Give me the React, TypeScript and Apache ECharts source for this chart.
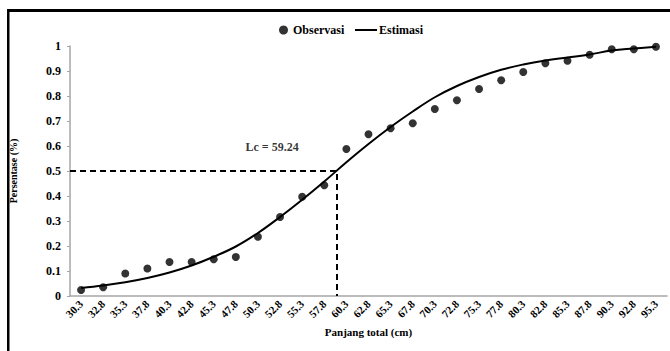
import React, { useEffect, useRef } from "react";
import * as echarts from "echarts";

// Length classes (cm)
const lengthClasses = [
  "30.3", "32.8", "35.3", "37.8", "40.3", "42.8", "45.3", "47.8", "50.3",
  "52.8", "55.3", "57.8", "60.3", "62.8", "65.3", "67.8", "70.3", "72.8",
  "75.3", "77.8", "80.3", "82.8", "85.3", "87.8", "90.3", "92.8", "95.3",
];

// Observed proportion retained
const observasi = [
  0.024, 0.035, 0.09, 0.11, 0.136, 0.136, 0.147, 0.156, 0.237,
  0.316, 0.397, 0.443, 0.588, 0.647, 0.671, 0.691, 0.748, 0.783,
  0.828, 0.863, 0.896, 0.931, 0.941, 0.965, 0.987, 0.987, 0.997,
];

// Estimated selectivity curve
const estimasi = [
  0.032, 0.042, 0.055, 0.072, 0.094, 0.122, 0.157, 0.198, 0.252,
  0.316, 0.385, 0.458, 0.535, 0.608, 0.676, 0.738, 0.795, 0.84,
  0.876, 0.905, 0.926, 0.942, 0.954, 0.966, 0.982, 0.99, 0.997,
];

// Length at first capture
const lc = 59.24;
const lcLabelPos = [51.9, 0.595];

const yTicks = [0, 0.1, 0.2, 0.3, 0.4, 0.5, 0.6, 0.7, 0.8, 0.9, 1];

const FONT = "'Liberation Serif', 'Times New Roman', serif";

export default function App() {
  const ref = useRef<HTMLDivElement>(null);

  useEffect(() => {
    if (!ref.current) return;
    const chart = echarts.init(ref.current, undefined, { renderer: "svg" });
    const first = parseFloat(lengthClasses[0]);
    const last = parseFloat(lengthClasses[lengthClasses.length - 1]);
    const step = 2.5;
    const legendText = { fontFamily: FONT, fontWeight: "bold", fontSize: 12, color: "#000" };
    chart.setOption({
      animation: false,
      backgroundColor: "#ffffff",
      textStyle: { fontFamily: FONT, color: "#000" },
      grid: { left: 67, right: 3, top: 46, bottom: 55 },
      legend: [
        {
          data: [{ name: "Observasi", icon: "circle" }],
          left: 274,
          top: 19,
          itemWidth: 9,
          itemHeight: 9,
          textStyle: legendText,
        },
        {
          data: [{ name: "Estimasi", icon: "rect" }],
          left: 350,
          top: 19,
          itemWidth: 22,
          itemHeight: 2,
          textStyle: { ...legendText, padding: [0, 0, 0, -3] },
        },
      ],
      xAxis: [
        {
          type: "category",
          data: lengthClasses,
          boundaryGap: true,
          name: "Panjang total (cm)",
          nameLocation: "middle",
          nameGap: 30,
          nameTextStyle: { fontFamily: FONT, fontWeight: "bold", fontSize: 11, color: "#000" },
          axisLine: { lineStyle: { color: "#a6a6a6", width: 1.5 } },
          axisTick: { show: false },
          axisLabel: {
            rotate: 45,
            interval: 0,
            margin: 6,
            fontFamily: FONT,
            fontWeight: "bold",
            fontSize: 11,
            color: "#000",
          },
          splitLine: { show: false },
        },
        {
          type: "value",
          min: first - step / 2,
          max: last + step / 2,
          show: false,
        },
      ],
      yAxis: {
        type: "value",
        min: 0,
        max: 1,
        interval: 0.1,
        name: "Persentase (%)",
        nameLocation: "middle",
        nameGap: 52,
        nameTextStyle: { fontFamily: FONT, fontWeight: "bold", fontSize: 10, color: "#000" },
        axisLine: { show: true, lineStyle: { color: "#a6a6a6", width: 1.5 } },
        axisTick: { show: true, length: 3, lineStyle: { color: "#a6a6a6" } },
        axisLabel: {
          margin: 9,
          fontFamily: FONT,
          fontWeight: "bold",
          fontSize: 12,
          color: "#000",
          formatter: (v: number) => {
            const t = yTicks.find((x) => Math.abs(x - v) < 1e-9);
            return t === undefined ? "" : String(t);
          },
        },
        splitLine: { show: false },
      },
      series: [
        {
          name: "Estimasi",
          type: "line",
          data: estimasi,
          smooth: 0.4,
          symbol: "none",
          lineStyle: { color: "#000", width: 2 },
          itemStyle: { color: "#000" },
          z: 3,
        },
        {
          name: "Observasi",
          type: "scatter",
          data: observasi,
          symbol: "circle",
          symbolSize: 8,
          itemStyle: { color: "#000" },
          z: 4,
        },
        {
          name: "Lc",
          type: "line",
          xAxisIndex: 1,
          data: [
            [first - step / 2, 0.5],
            [lc, 0.5],
            [lc, 0],
          ],
          symbol: "none",
          lineStyle: { color: "#000", width: 2, type: [6, 4] },
          z: 2,
        },
        {
          name: "Lc label",
          type: "scatter",
          xAxisIndex: 1,
          data: [lcLabelPos],
          symbolSize: 0,
          label: {
            show: true,
            position: "inside",
            formatter: `Lc = ${lc}`,
            fontFamily: FONT,
            fontWeight: "bold",
            fontSize: 12,
            color: "#000",
          },
          silent: true,
        },
      ],
      graphic: [
        { type: "rect", shape: { x: 7, y: 9, width: 663, height: 3 }, style: { fill: "#000" } },
        { type: "rect", shape: { x: 7, y: 9, width: 2.5, height: 342 }, style: { fill: "#000" } },
      ],
    });
    return () => chart.dispose();
  }, []);

  return (
    <div
      ref={ref}
      style={{ position: "fixed", left: 0, top: 0, width: 670, height: 351 }}
    />
  );
}
